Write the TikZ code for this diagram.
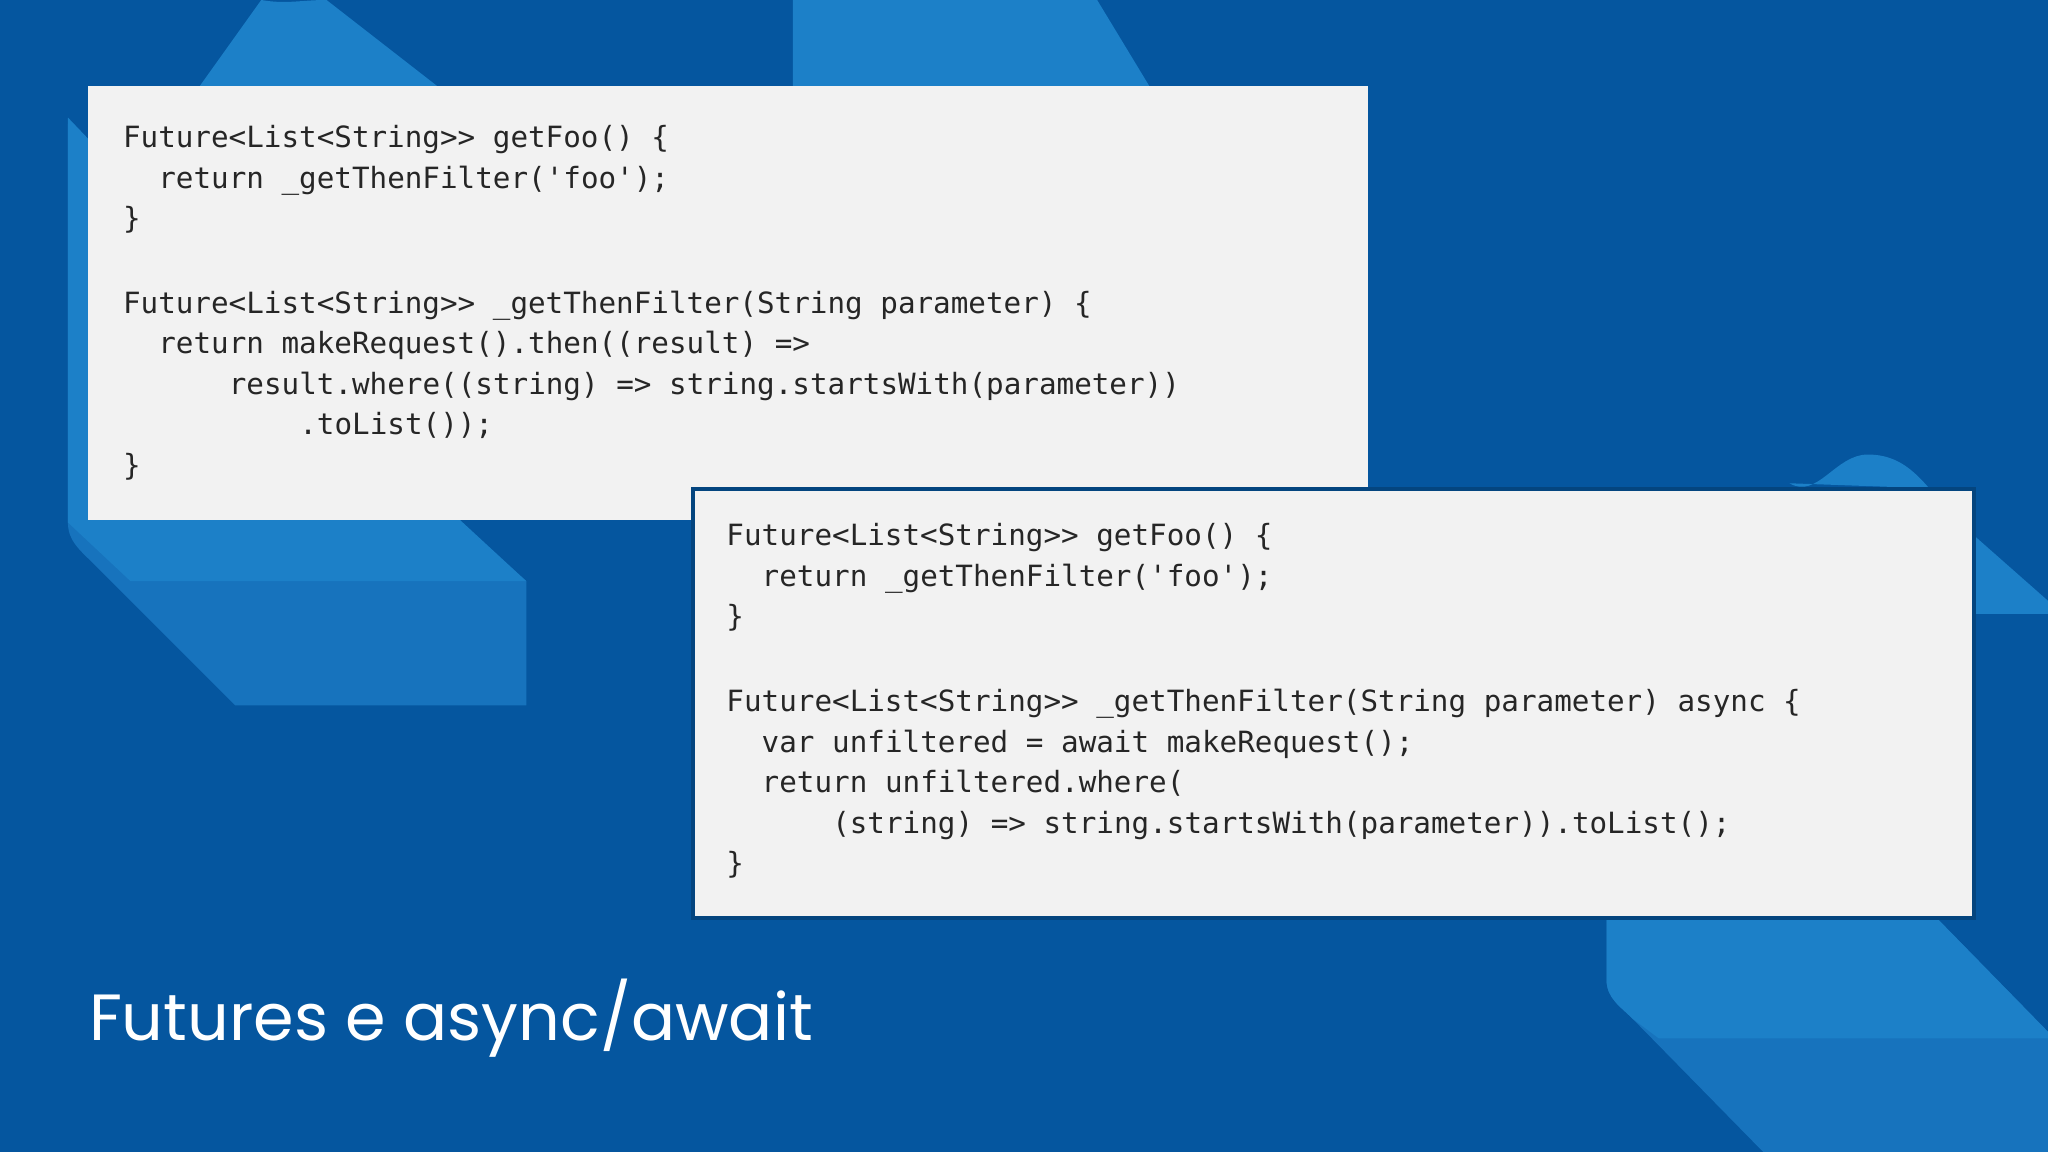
\documentclass[tikz,border=0pt]{standalone}
\usepackage{fontspec}
\setmonofont{DejaVu Sans Mono}
\newfontfamily\titlefont{Poppins}
\begin{document}
\begin{tikzpicture}[x=1pt,y=-1pt,
  codetxt/.style={anchor=base west,inner sep=0pt,font=\fontsize{22.4}{26}\ttfamily,text=black!85},
  codebox/.style={fill=black!5,draw=none}]
\definecolor{bgblue}{HTML}{05569F}
\definecolor{lightA}{HTML}{1C80C8}
\definecolor{lightB}{HTML}{1773BD}
\useasboundingbox (0,0) rectangle (1568,882);
\fill[bgblue] (0,0) rectangle (1568,882);
% background shapes
\fill[lightB] (52,95) -- (52,400) to[out=-90,in=135] (70,430) -- (180,540) -- (403,540) -- (403,445) -- (330,380) -- cycle;
\fill[lightA] (52,90) -- (52,400) -- (100,445) -- (403,445) -- (300,350) -- cycle;
\fill[lightA] (200,0) to[out=-10,in=180] (250,0) -- (340,70) -- (150,70) -- cycle;
\fill[lightA] (607,0) -- (840,0) -- (880,66) -- (607,66) -- cycle;
\fill[lightA] (1370,370) to[out=-30,in=180] (1430,348) to[out=0,in=135] (1500,400) -- (1568,460) -- (1568,470) -- (1510,470) -- (1510,375) -- cycle;
\fill[lightB] (1230,700) -- (1230,750) to[out=-90,in=135] (1250,780) -- (1350,882) -- (1568,882) -- (1568,790) -- (1480,700) -- cycle;
\fill[lightA] (1230,700) -- (1230,750) to[out=-90,in=135] (1250,780) -- (1270,795) -- (1568,795) -- (1568,790) -- (1480,700) -- cycle;
% boxes
\node[codebox,minimum width=980,minimum height=332,anchor=north west,inner sep=0pt] (b1) at (67,66) {};
\node[codebox,draw=bgblue!80!black,line width=3pt,minimum width=981,minimum height=328,anchor=north west,inner sep=0pt] (b2) at (529,373) {};
% code 1
\def\cw{13.5}
\node[codetxt] (a1) at (94,113) {Future<List<String>> getFoo() \{};
\node[codetxt] (a2) at (94+2*\cw,144) {return \_getThenFilter('foo');};
\node[codetxt] (a3) at (94,175) {\}};
\node[codetxt] (a4) at (94,240) {Future<List<String>> \_getThenFilter(String parameter) \{};
\node[codetxt] (a5) at (94+2*\cw,271) {return makeRequest().then((result) =>};
\node[codetxt] (a6) at (94+6*\cw,302) {result.where((string) => string.startsWith(parameter))};
\node[codetxt] (a7) at (94+10*\cw,333) {.toList());};
\node[codetxt] (a8) at (94,364) {\}};
% code 2
\node[codetxt] (c1) at (556,418) {Future<List<String>> getFoo() \{};
\node[codetxt] (c2) at (556+2*\cw,449) {return \_getThenFilter('foo');};
\node[codetxt] (c3) at (556,480) {\}};
\node[codetxt] (c4) at (556,545) {Future<List<String>> \_getThenFilter(String parameter) async \{};
\node[codetxt] (c5) at (556+2*\cw,576) {var unfiltered = await makeRequest();};
\node[codetxt] (c6) at (556+2*\cw,607) {return unfiltered.where(};
\node[codetxt] (c7) at (556+6*\cw,638) {(string) => string.startsWith(parameter)).toList();};
\node[codetxt] (c8) at (556,669) {\}};
% title
\node[anchor=base west,inner sep=0pt,text=white,font=\titlefont\fontsize{50}{60}\selectfont] (t) at (68,797) {Futures e async/await};
\end{tikzpicture}
\end{document}
